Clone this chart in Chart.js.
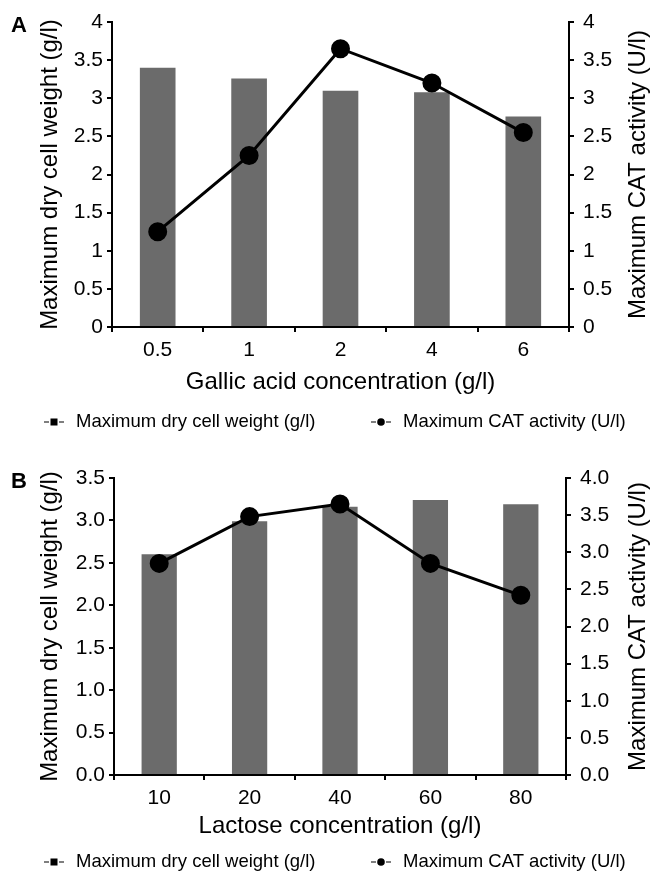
<!DOCTYPE html>
<html>
<head>
<meta charset="utf-8">
<script src="https://cdn.jsdelivr.net/npm/chart.js@4"></script>
<style>
  html, body { margin: 0; padding: 0; background: #fff; }
  .panel { position: relative; width: 650px; }
  #panelA { height: 440px; }
  #panelB { height: 431px; }
</style>
</head>
<body>
<div class="panel" id="panelA"><canvas id="chartA"></canvas></div>
<div class="panel" id="panelB"><canvas id="chartB"></canvas></div>
<script>
// panel A: gallic acid
const gallicLabels = ['0.5', '1', '2', '4', '6'];
const gallicDcw = [3.4, 3.26, 3.1, 3.08, 2.76];
const gallicCat = [1.25, 2.25, 3.65, 3.2, 2.55];

// panel B: lactose
const lactoseLabels = ['10', '20', '40', '60', '80'];
const lactoseDcw = [2.6, 2.99, 3.16, 3.24, 3.19];
const lactoseCat = [2.85, 3.48, 3.65, 2.85, 2.42];

const dcwLabel = 'Maximum dry cell weight (g/l)';
const catLabel = 'Maximum CAT activity (U/l)';

const FONT = '"Liberation Sans", Arial, Helvetica, sans-serif';
Chart.defaults.font.family = FONT;
Chart.defaults.color = '#000';

// panel letter, right axis title (reads upwards like the left one) and the legend row
const extras = {
  id: 'extras',
  afterDraw(chart, args, opts) {
    const ctx = chart.ctx;
    const area = chart.chartArea;
    ctx.save();
    ctx.fillStyle = '#000';
    ctx.font = 'bold 22px ' + FONT;
    ctx.textAlign = 'left';
    ctx.textBaseline = 'alphabetic';
    ctx.fillText(opts.letter, 11, opts.letterY);

    ctx.save();
    ctx.font = '24px ' + FONT;
    ctx.translate(opts.rightTitleX, (area.top + area.bottom) / 2);
    ctx.rotate(-Math.PI / 2);
    ctx.textAlign = 'center';
    ctx.textBaseline = 'middle';
    ctx.fillText(opts.rightTitle, 0, 0);
    ctx.restore();

    ctx.font = '18.5px ' + FONT;
    ctx.textBaseline = 'middle';
    chart.data.datasets.forEach((ds, i) => {
      const x = opts.legendX[i];
      const y = opts.legendY;
      ctx.strokeStyle = '#555';
      ctx.lineWidth = 1.3;
      ctx.beginPath();
      ctx.moveTo(x, y); ctx.lineTo(x + 5, y);
      ctx.moveTo(x + 15, y); ctx.lineTo(x + 20, y);
      ctx.stroke();
      ctx.fillStyle = '#000';
      if (ds.type === 'bar') {
        ctx.fillRect(x + 6.5, y - 3.5, 7, 7);
      } else {
        ctx.beginPath();
        ctx.arc(x + 10, y, 3.8, 0, Math.PI * 2);
        ctx.fill();
      }
      ctx.fillText(ds.label, x + 32, y);
    });
    ctx.restore();
  }
};

function buildChart(id, labels, dcw, cat, o) {
  const axisFont = { size: 21 };
  const titleFont = { size: 24, lineHeight: 1 };
  return new Chart(document.getElementById(id), {
    data: {
      labels: labels,
      datasets: [
        {
          type: 'bar', label: dcwLabel, data: dcw, yAxisID: 'y',
          backgroundColor: '#6b6b6b', barPercentage: 0.39, categoryPercentage: 1, order: 2
        },
        {
          type: 'line', label: catLabel, data: cat, yAxisID: 'y1',
          borderColor: '#000', borderWidth: 3, tension: 0,
          pointRadius: 8, pointBackgroundColor: '#000', pointBorderColor: '#000', order: 1
        }
      ]
    },
    options: {
      responsive: true,
      maintainAspectRatio: false,
      animation: false,
      layout: { padding: { top: o.top, bottom: o.bottom, left: 0, right: 0 } },
      plugins: {
        legend: { display: false },
        tooltip: { enabled: false },
        extras: o.extras
      },
      scales: {
        x: {
          grid: { offset: true, drawOnChartArea: false, tickLength: 5, color: '#000', lineWidth: 2 },
          border: { color: '#000', width: 2 },
          ticks: { font: axisFont, padding: 6, maxRotation: 0 },
          title: { display: true, text: o.xTitle, font: titleFont, padding: { top: 0, bottom: 0 } },
          afterFit: s => { s.height = o.xHeight; }
        },
        y: {
          position: 'left', min: 0, max: o.yMax,
          grid: { drawOnChartArea: false, tickLength: 5, color: '#000', lineWidth: 2 },
          border: { color: '#000', width: 2 },
          ticks: { stepSize: 0.5, font: axisFont, padding: 4, callback: o.fmt },
          title: { display: true, text: dcwLabel, font: titleFont, padding: { top: 38, bottom: 0 } },
          afterFit: s => { s.width = o.left; }
        },
        y1: {
          position: 'right', min: 0, max: o.y1Max,
          grid: { drawOnChartArea: false, tickLength: 5, color: '#000', lineWidth: 2 },
          border: { color: '#000', width: 2 },
          ticks: { stepSize: 0.5, font: axisFont, padding: 9, callback: o.fmt },
          afterFit: s => { s.width = 650 - o.right; }
        }
      }
    },
    plugins: [extras]
  });
}

buildChart('chartA', gallicLabels, gallicDcw, gallicCat, {
  top: 22, bottom: 45.5, xHeight: 67.5, left: 112, right: 569,
  yMax: 4, y1Max: 4, xTitle: 'Gallic acid concentration (g/l)',
  fmt: v => String(v),
  extras: { letter: 'A', letterY: 32, rightTitle: catLabel, rightTitleX: 638, legendX: [44, 371], legendY: 422 }
});

buildChart('chartB', lactoseLabels, lactoseDcw, lactoseCat, {
  top: 38, bottom: 32.5, xHeight: 63.5, left: 114, right: 566,
  yMax: 3.5, y1Max: 4, xTitle: 'Lactose concentration (g/l)',
  fmt: v => v.toFixed(1),
  extras: { letter: 'B', letterY: 48, rightTitle: catLabel, rightTitleX: 638, legendX: [44, 371], legendY: 422 }
});
</script>
</body>
</html>
